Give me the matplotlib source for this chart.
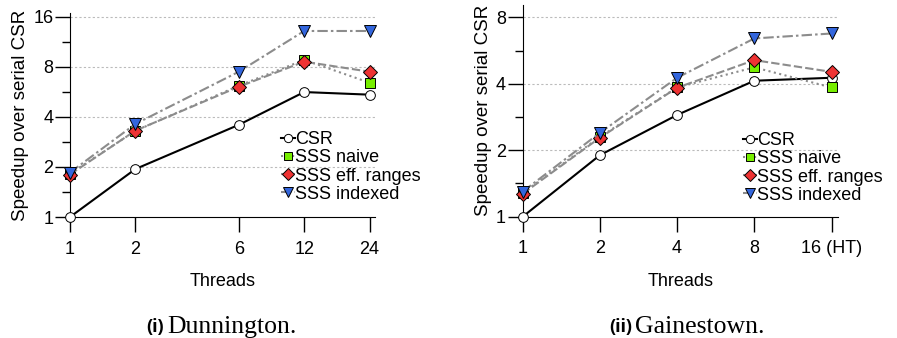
import numpy as np
import matplotlib
matplotlib.use("Agg")
import matplotlib.pyplot as plt
import matplotlib.transforms as mtransforms

plt.rcParams["font.family"] = ["Liberation Sans", "DejaVu Sans"]

# Dunnington (left panel)
threads_d = [1, 2, 6, 12, 24]
labels_d = ["1", "2", "6", "12", "24"]
csr_d = [1.0, 1.94, 3.58, 5.63, 5.43]
naive_d = [1.82, 3.29, 6.15, 8.78, 6.41]
eff_d = [1.80, 3.30, 6.06, 8.57, 7.46]
idx_d = [1.85, 3.62, 7.46, 13.1, 13.1]

# Gainestown (right panel)
threads_g = [1, 2, 4, 8, 16]
labels_g = ["1", "2", "4", "8", "16 (HT)"]
csr_g = [1.0, 1.90, 2.89, 4.13, 4.26]
naive_g = [1.28, 2.30, 3.85, 4.75, 3.85]
eff_g = [1.27, 2.28, 3.84, 5.12, 4.53]
idx_g = [1.30, 2.40, 4.26, 6.42, 6.76]

series_names = ["CSR", "SSS naive", "SSS eff. ranges", "SSS indexed"]

W, H = 897, 338
fig = plt.figure(figsize=(W / 100, H / 100), dpi=100)


def px_axes(x0, y_top, x1, y_bot):
    return fig.add_axes([x0 / W, 1 - y_bot / H, (x1 - x0) / W, (y_bot - y_top) / H])


styles = [
    dict(color="black", ls="-", marker="o", mfc="white", ms=7),
    dict(color="#8c8c8c", ls=":", marker="s", mfc="#77ee00", ms=6.5),
    dict(color="#8c8c8c", ls=(0, (4, 1.5)), marker="D", mfc="#ee3333", ms=7),
    dict(color="#8c8c8c", ls=(0, (5, 1.5, 1.2, 1.5)), marker="v", mfc="#3366dd", ms=8),
]


def draw_panel(ax, threads, labels, data, ymax, ylab_x, leg_xy):
    ax.set_xscale("log", base=2)
    ax.set_yscale("log", base=2)
    for vals, st in zip(data, styles):
        ax.plot(threads, vals, lw=1.5, mec="black", mew=0.7, clip_on=False, zorder=3, **st)
    ax.set_xlim(threads[0], threads[-1] * 1.06)
    ax.set_ylim(1, ymax)
    ax.set_xticks(threads)
    ax.set_xticklabels(labels)
    ax.xaxis.set_minor_locator(matplotlib.ticker.NullLocator())
    top = int(np.log2(ymax))
    majors = [2 ** k for k in range(top + 1)]
    ax.set_yticks(majors)
    ax.set_yticklabels([str(m) for m in majors])
    ax.set_yticks([2 ** (k + 0.5) for k in range(top)], minor=True)
    ax.yaxis.set_minor_formatter(matplotlib.ticker.NullFormatter())
    for m in majors[1:]:
        ax.axhline(m, color="#bbbbbb", ls=(0, (2, 2)), lw=0.8, zorder=1)
    ax.spines["top"].set_visible(False)
    ax.spines["right"].set_visible(False)
    ax.tick_params(axis="x", which="major", length=11, width=1, labelsize=13, pad=6)
    ax.tick_params(axis="y", which="major", length=11, width=1, labelsize=13, pad=1)
    ax.tick_params(axis="y", which="minor", length=6, width=1)
    ax.set_xlabel("Threads", fontsize=13, labelpad=11)
    ax.set_ylabel("Speedup over serial CSR", fontsize=13.5)
    lab_tr = mtransforms.blended_transform_factory(fig.transFigure, ax.transAxes)
    ax.yaxis.set_label_coords(ylab_x / W, 0.5, transform=lab_tr)
    leg = ax.legend(series_names, loc="upper left",
                    bbox_to_anchor=(leg_xy[0] / W, 1 - leg_xy[1] / H),
                    bbox_transform=fig.transFigure, frameon=False,
                    fontsize=13, handlelength=0.75, handletextpad=0.05,
                    markerscale=0.85, labelspacing=0.07, borderpad=0, borderaxespad=0)
    return leg


ax1 = px_axes(70, 13, 375, 217)
draw_panel(ax1, threads_d, labels_d, [csr_d, naive_d, eff_d, idx_d], 16.8, 29, (281, 131))

ax2 = px_axes(522.7, 5, 838, 216.7)
draw_panel(ax2, threads_g, labels_g, [csr_g, naive_g, eff_g, idx_g], 9.1, 492, (743, 132))

# captions: bold sans tag + serif name
cy = 1 - 327 / H
fig.text(164 / W, cy, "(i)", fontsize=13, fontweight="bold", family="Open Sans", ha="right", va="center")
fig.text(167 / W, cy, "Dunnington.", fontsize=18.5, family="Liberation Serif", ha="left", va="center")
fig.text(632 / W, cy, "(ii)", fontsize=13, fontweight="bold", family="Open Sans", ha="right", va="center")
fig.text(635 / W, cy, "Gainestown.", fontsize=18.5, family="Liberation Serif", ha="left", va="center")

fig.savefig("out.png", dpi=100)
